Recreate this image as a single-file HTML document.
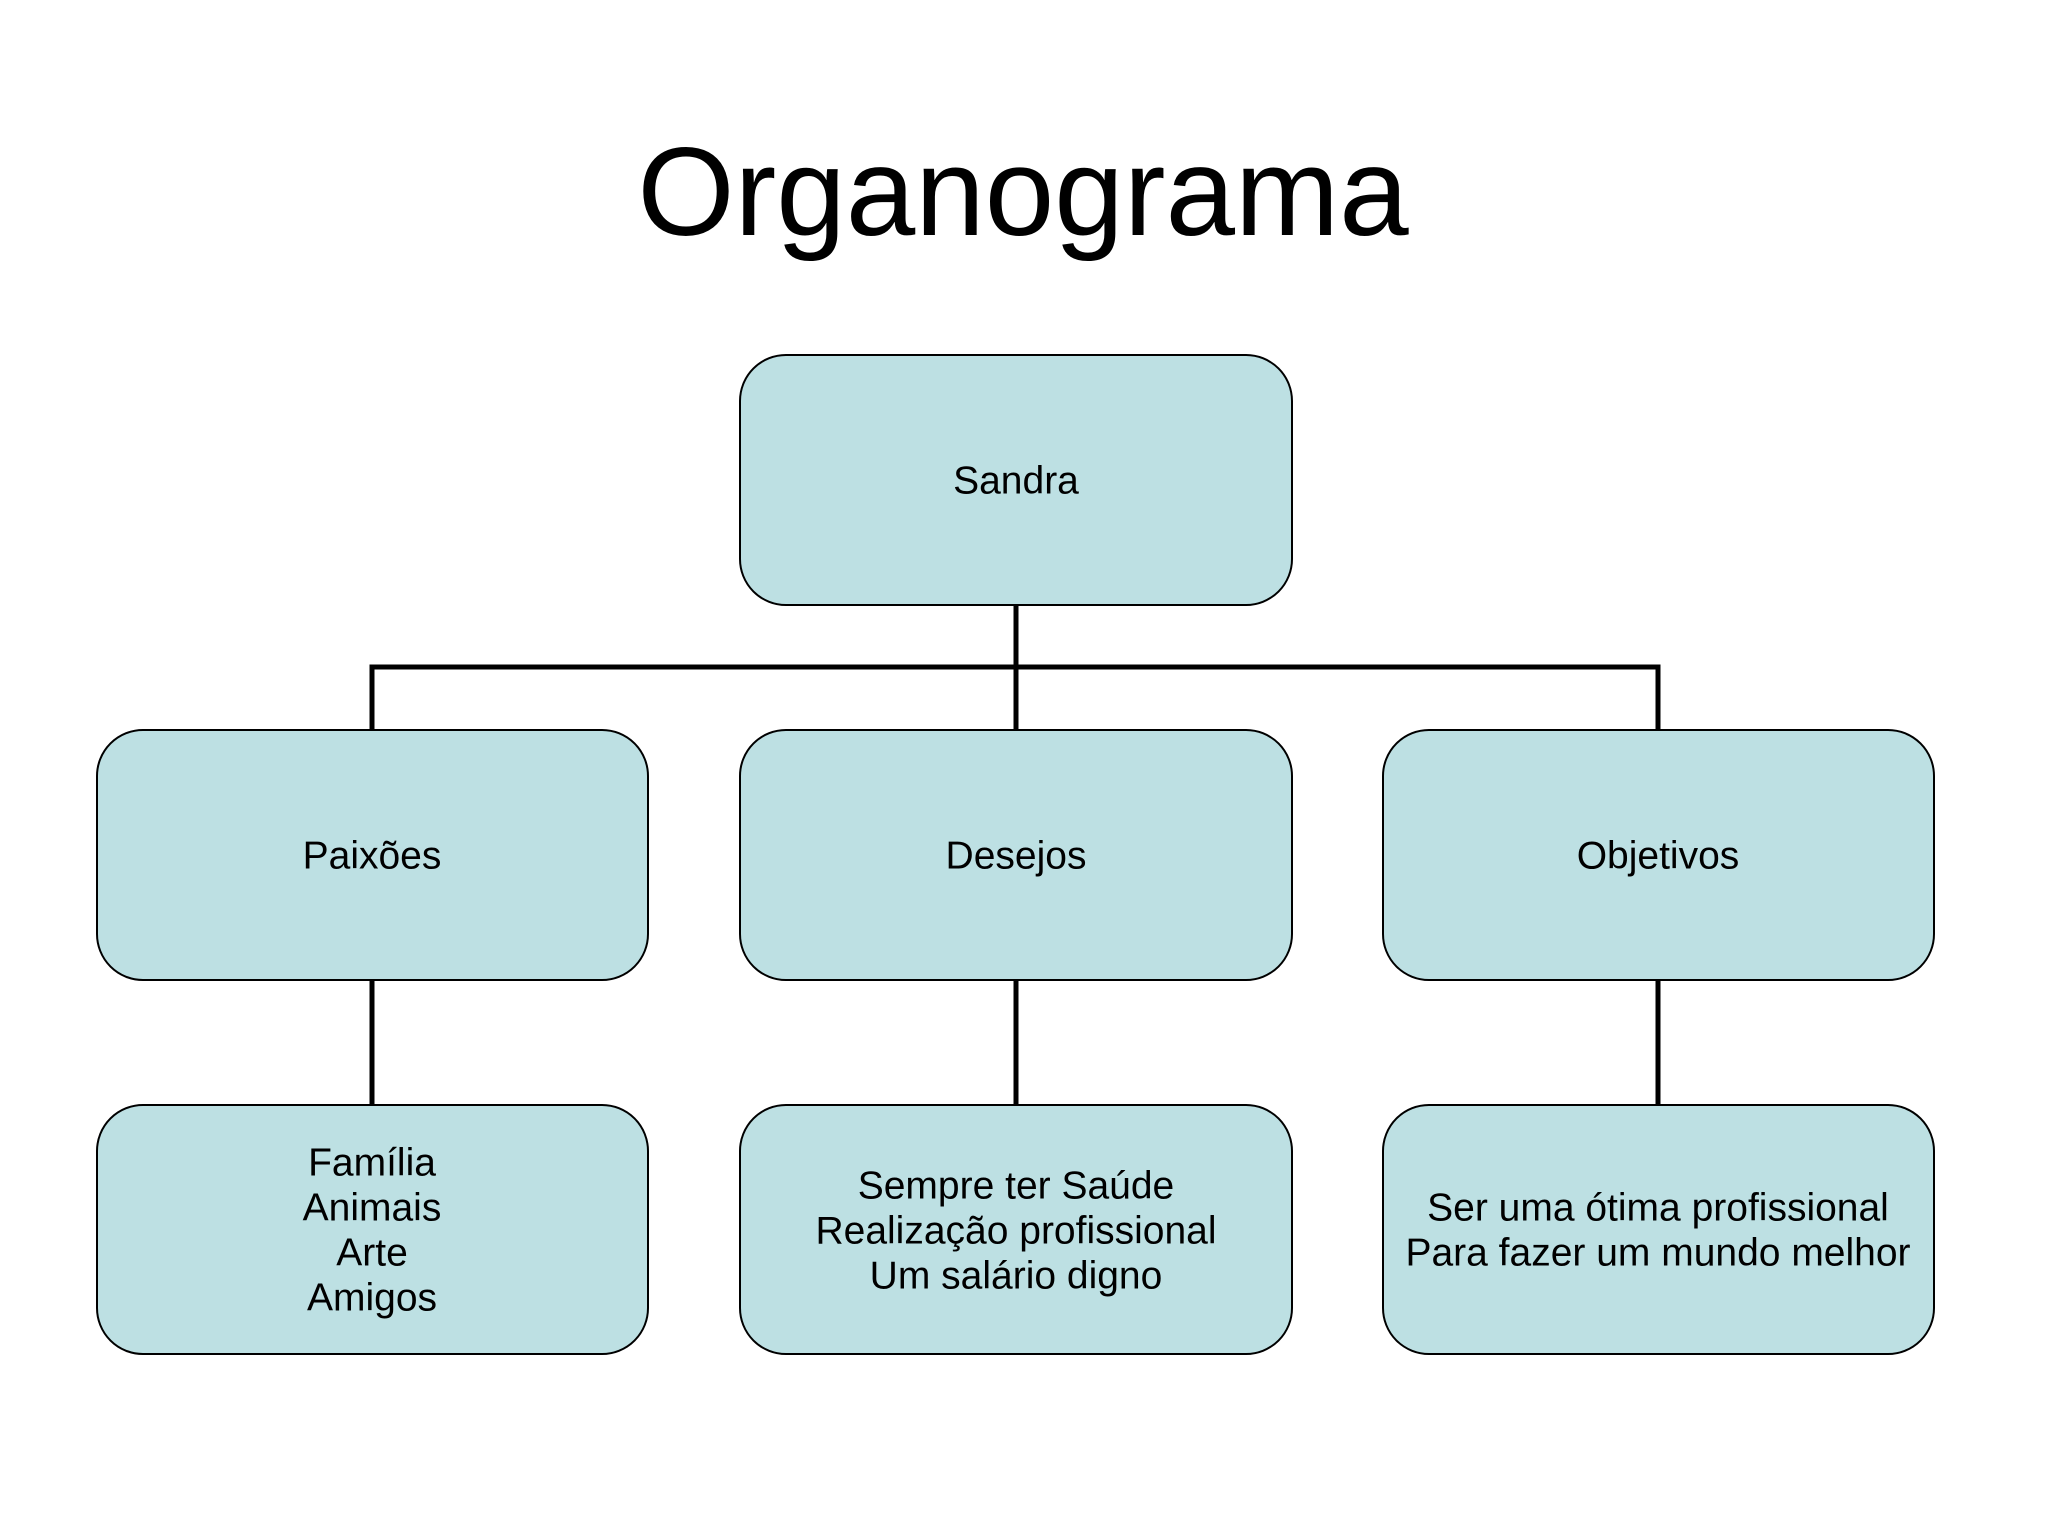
<!DOCTYPE html>
<html><head><meta charset="utf-8"><style>
html,body{margin:0;padding:0;background:#fff;}
svg{display:block;}
text{font-family:"Liberation Sans",Arial,sans-serif;fill:#000;}
</style></head><body>
<svg width="2048" height="1536" viewBox="0 0 2048 1536" xmlns="http://www.w3.org/2000/svg">
<rect width="2048" height="1536" fill="#fff"/>
<text x="1023" y="235" font-size="125" text-anchor="middle">Organograma</text>
<g stroke="#000" stroke-width="5" fill="none">
<line x1="1016" y1="605" x2="1016" y2="730"/>
<polyline points="372,730 372,667 1658,667 1658,730"/>
<line x1="372" y1="980" x2="372" y2="1105"/>
<line x1="1016" y1="980" x2="1016" y2="1105"/>
<line x1="1658" y1="980" x2="1658" y2="1105"/>
</g>
<g fill="#bde0e3" stroke="#000" stroke-width="2">
<rect x="740" y="355" width="552" height="250" rx="46"/>
<rect x="97" y="730" width="551" height="250" rx="46"/>
<rect x="740" y="730" width="552" height="250" rx="46"/>
<rect x="1383" y="730" width="551" height="250" rx="46"/>
<rect x="97" y="1105" width="551" height="249" rx="46"/>
<rect x="740" y="1105" width="552" height="249" rx="46"/>
<rect x="1383" y="1105" width="551" height="249" rx="46"/>
</g>
<g font-size="39" text-anchor="middle" dominant-baseline="central">
<text x="1016" y="481">Sandra</text>
<text x="372" y="856">Paixões</text>
<text x="1016" y="856">Desejos</text>
<text x="1658" y="856">Objetivos</text>
<text x="372" y="1163">Família</text>
<text x="372" y="1208">Animais</text>
<text x="372" y="1253">Arte</text>
<text x="372" y="1298">Amigos</text>
<text x="1016" y="1186">Sempre ter Saúde</text>
<text x="1016" y="1231">Realização profissional</text>
<text x="1016" y="1276">Um salário digno</text>
<text x="1658" y="1208">Ser uma ótima profissional</text>
<text x="1658" y="1253">Para fazer um mundo melhor</text>
</g>
</svg>
</body></html>
